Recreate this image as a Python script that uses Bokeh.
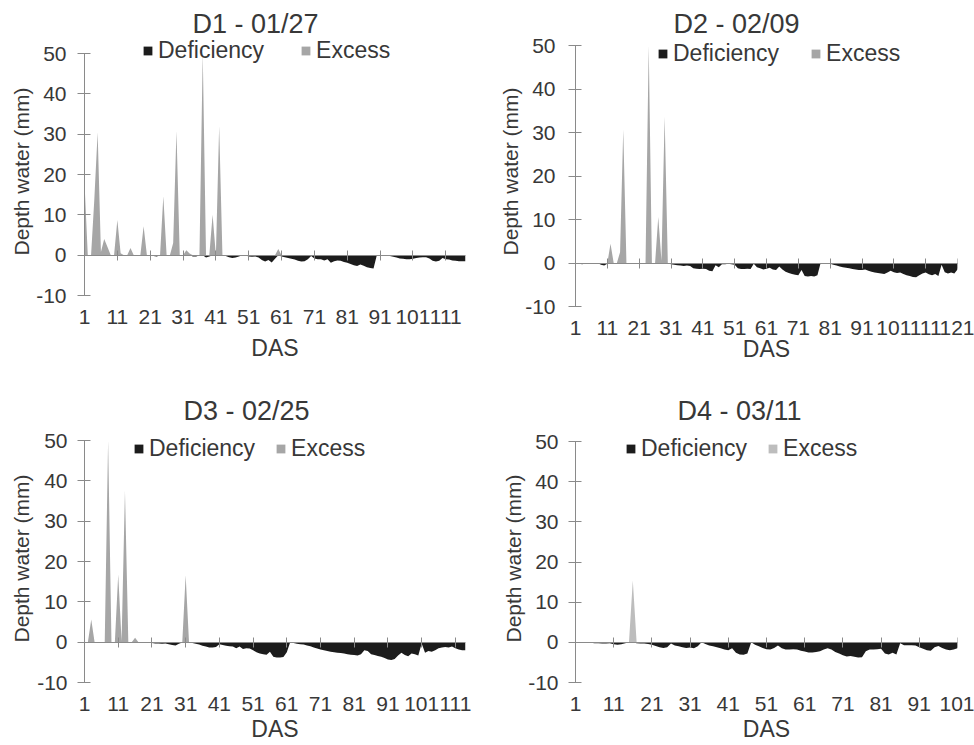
from bokeh.plotting import figure
from bokeh.layouts import column, row
from bokeh.models import (Range1d, FixedTicker, LinearAxis, Legend, LegendItem,
                          ColumnDataSource, CustomJSTickFormatter)
from bokeh.embed import file_html
from bokeh.resources import INLINE

FONT = "Liberation Sans"
TEXT = "#383838"
AXIS = "#8a8a8a"
DEF_COLOR = "#1c1c1c"

# ---------------- data ----------------
titles = ["D1 - 01/27", "D2 - 02/09", "D3 - 02/25", "D4 - 03/11"]
series_names = ["Deficiency", "Excess"]
y_ticks = [-10, 0, 10, 20, 30, 40, 50]

d1_deficiency = [
    0, 0, 0, 0, 0, 0, 0, 0, 0, 0,
    0, 0, -0.2, 0, 0, 0, 0, 0, 0, 0,
    0, -0.2, -0.3, 0, 0, 0, 0, 0, 0, 0,
    0, 0, 0, -0.3, -0.3, 0, 0, -0.6, -0.3, 0,
    0, 0, 0, -0.2, -0.5, -0.7, -0.6, -0.3, 0, 0,
    -0.3, -0.4, -0.3, -0.6, -1.2, -1.6, -1.2, -1.8, -0.9, 0,
    -0.3, -0.5, -0.7, -0.9, -1.1, -1.4, -1.6, -1.5, -1.0, -0.2,
    -0.8, -1.0, -1.0, -1.3, -1.0, -1.9, -1.5, -1.3, -1.4, -1.7,
    -1.9, -2.2, -2.5, -2.7, -2.3, -2.6, -3.0, -3.2, -3.3, 0,
    -0.1, -0.1, -0.1, -0.2, -0.4, -0.6, -0.8, -0.9, -1.0, -1.0,
    -0.9, -0.7, -0.6, -0.5, -0.5, -0.8, -1.4, -1.6, -1.4, -0.7,
    -1.0, -1.1, -1.3, -1.4, -1.5, -1.5, -1.5]
d1_excess_days = [1, 4, 5, 6, 7, 8, 11, 12, 15, 19, 25, 28, 29, 32, 33, 37, 40, 42, 60]
d1_excess_vals = [18, 14, 30.5, 0.8, 4, 2, 8.7, 0.5, 1.8, 7.2, 14.6, 3, 30.8, 1.2, 0.4, 50, 10, 32, 1.5]

d2_deficiency = [
    0, 0, -0.3, -0.2, 0, 0, 0, 0, -0.4, -0.6,
    -0.2, 0, 0, 0, 0, 0, 0, -0.1, -0.2, 0,
    0, 0, 0, 0, 0, -0.2, 0, 0, 0, 0,
    -0.3, -0.4, -0.5, -0.6, -0.7, -0.6, -0.7, -1.2, -1.3, -1.4,
    -1.3, -1.4, -1.8, -1.9, -0.5, -1.0, -0.3, -0.3, -0.2, -0.3,
    -0.4, -1.2, -1.4, -1.4, -1.3, -1.4, -0.2, -1.0, -1.2, -1.5,
    -1.3, -1.1, -1.5, -1.6, -0.8, -1.5, -2.0, -2.3, -2.5, -2.7,
    -2.8, -1.6, -3.0, -3.1, -3.0, -3.1, -2.8, 0, -0.1, -0.1,
    -0.2, -0.4, -0.6, -0.8, -1.0, -1.1, -1.2, -1.4, -1.5, -1.6,
    -1.6, -1.5, -1.8, -2.0, -2.2, -2.3, -2.4, -2.5, -2.2, -1.8,
    -2.1, -2.3, -2.2, -2.5, -2.8, -3.0, -3.2, -3.3, -2.8, -2.4,
    -2.2, -2.6, -2.8, -2.5, -3.0, -0.4, -2.1, -2.4, -2.2, -2.4, -1.5]
d2_excess_days = [12, 15, 16, 24, 27, 28, 29]
d2_excess_vals = [4.4, 2.5, 30.7, 50, 10.6, 0.5, 33.7]

d3_deficiency = [
    0, 0, 0, 0, 0, 0, 0, 0, 0, 0,
    0, 0, 0, 0, 0, 0, 0, 0, 0, 0,
    -0.2, -0.3, -0.3, -0.4, -0.3, -0.5, -0.7, -0.8, -0.4, -0.1,
    0, -0.1, -0.2, -0.4, -0.6, -0.9, -1.1, -1.3, -1.3, -1.2,
    -0.5, -0.7, -0.9, -1.0, -1.1, -1.5, -1.1, -1.7, -1.5, -1.6,
    -2.0, -2.5, -2.8, -3.0, -3.1, -2.4, -3.6, -3.8, -3.8, -3.7,
    -2.5, 0, -0.2, -0.4, -0.5, -0.6, -0.8, -1.0, -1.3, -1.6,
    -1.8, -2.0, -2.2, -2.4, -2.5, -2.6, -2.7, -2.8, -3.0, -3.1,
    -3.2, -3.3, -3.0, -2.0, -2.2, -3.0, -3.2, -3.4, -3.6, -3.9,
    -4.3, -4.4, -4.2, -3.3, -2.6, -3.2, -3.5, -2.8, -3.0, -3.3,
    -0.3, -2.6, -2.2, -2.4, -2.0, -1.5, -1.3, -1.2, -1.3, -1.1,
    -1.5, -1.8, -2.0, -2.0]
d3_excess_days = [3, 8, 11, 12, 13, 16, 31]
d3_excess_vals = [5.6, 50, 16.8, 0.3, 37.6, 1.1, 16.6]

d4_deficiency = [
    0, 0, 0, 0, -0.1, -0.2, -0.2, -0.3, -0.3, -0.2,
    -0.5, -0.6, -0.5, -0.2, 0, 0, -0.2, -0.3, -0.3, -0.4,
    -0.6, -0.9, -1.2, -1.4, -1.2, -0.3, -0.8, -1.0, -1.2, -1.4,
    -1.3, -1.5, -1.0, 0, -0.4, -0.8, -1.0, -1.2, -1.5, -1.8,
    -2.0, -1.5, -2.6, -3.0, -3.1, -2.8, 0, -0.6, -1.0, -1.4,
    -1.7, -1.8, -1.4, -0.8, -1.5, -1.8, -1.8, -1.7, -1.8, -2.1,
    -2.3, -2.5, -2.5, -2.4, -2.2, -1.8, -1.5, -1.8, -2.4, -2.8,
    -3.2, -3.5, -3.4, -3.6, -3.8, -3.7, -2.2, -1.8, -1.8, -1.7,
    -1.6, -2.8, -3.0, -2.6, -3.0, -0.2, -0.7, -0.7, -0.7, -0.8,
    -1.2, -1.6, -2.0, -2.1, -1.2, -0.9, -1.4, -1.8, -2.0, -1.8, -1.5]
d4_excess_days = [16]
d4_excess_vals = [15.4]

# ---------------- layout / style per panel (pixels) ----------------
configs = [
    dict(size=(487, 372), top=36, bottom=306, tstand=-4, left=84, right=22,
         pos50=53, pos_m10=295, title_off=108, leg=(58, 242), leg_sp=36,
         xstand=3, dasstand=8, ystand=11, ylabstand=0, exc="#a6a6a6"),
    dict(size=(487, 372), top=36, bottom=306, tstand=-4, left=88, right=17,
         pos50=45, pos_m10=306, title_off=98, leg=(82, 239), leg_sp=31,
         xstand=14, dasstand=-2, ystand=13, ylabstand=0, exc="#a6a6a6"),
    dict(size=(487, 372), top=62, bottom=310, tstand=18, left=84, right=22,
         pos50=68, pos_m10=310, title_off=99, leg=(49, 220), leg_sp=20,
         xstand=14, dasstand=2, ystand=10, ylabstand=1, exc="#a6a6a6"),
    dict(size=(487, 372), top=62, bottom=310, tstand=18, left=88, right=17,
         pos50=69, pos_m10=310, title_off=102, leg=(50, 220), leg_sp=20,
         xstand=14, dasstand=2, ystand=10, ylabstand=0, exc="#bdbdbd"),
]


def make_panel(title, deficiency, exc_days, exc_vals, cfg):
    n = len(deficiency)
    days = list(range(1, n + 1))
    excess = [0.0] * n
    for d, v in zip(exc_days, exc_vals):
        excess[d - 1] = v
    src = ColumnDataSource(dict(day=days, deficiency=deficiency, excess=excess))

    W, H = cfg["size"]
    ppu = (cfg["pos_m10"] - cfg["pos50"]) / 60.0
    y_end = 50 + (cfg["pos50"] - cfg["top"]) / ppu
    y_start = -10 - (cfg["bottom"] - cfg["pos_m10"]) / ppu

    p = figure(width=W, height=H, output_backend="svg", toolbar_location=None,
               x_range=Range1d(1, n), y_range=Range1d(y_start, y_end),
               x_axis_type=None, y_axis_type=None,
               min_border_left=cfg["left"], min_border_right=cfg["right"],
               min_border_top=cfg["top"], min_border_bottom=H - cfg["bottom"])
    p.outline_line_color = None
    p.background_fill_color = "white"
    p.border_fill_color = "white"

    p.title.text = title
    p.title.align = "left"
    p.title.offset = cfg["title_off"]
    p.title.vertical_align = "bottom"
    p.title.standoff = cfg["tstand"]
    p.title.text_font = FONT
    p.title.text_font_size = "27px"
    p.title.text_font_style = "normal"
    p.title.text_color = TEXT

    r_def = p.varea(x="day", y1=0, y2="deficiency", source=src, fill_color=DEF_COLOR)
    r_exc = p.varea(x="day", y1=0, y2="excess", source=src, fill_color=cfg["exc"])

    yax = LinearAxis(ticker=FixedTicker(ticks=y_ticks), bounds=(-10, 50),
                     formatter=CustomJSTickFormatter(code="return tick.toFixed(0)"),
                     axis_label="Depth water (mm)",
                     axis_line_color=AXIS, major_tick_line_color=AXIS,
                     minor_tick_line_color=None,
                     major_tick_in=6, major_tick_out=7,
                     major_label_standoff=cfg["ystand"],
                     axis_label_standoff=cfg["ylabstand"],
                     major_label_text_font=FONT, major_label_text_font_size="21px",
                     major_label_text_color=TEXT,
                     axis_label_text_font=FONT, axis_label_text_font_size="21px",
                     axis_label_text_font_style="normal", axis_label_text_color=TEXT)
    p.add_layout(yax, "left")

    x_ticks = list(range(1, n + 1, 10))
    xax = LinearAxis(ticker=FixedTicker(ticks=x_ticks), axis_label="DAS",
                     formatter=CustomJSTickFormatter(code="return tick.toFixed(0)"),
                     axis_line_color=None, major_tick_line_color=None,
                     minor_tick_line_color=None, major_tick_in=0, major_tick_out=0,
                     major_label_standoff=cfg["xstand"],
                     axis_label_standoff=cfg["dasstand"],
                     major_label_text_font=FONT, major_label_text_font_size="21px",
                     major_label_text_color=TEXT,
                     axis_label_text_font=FONT, axis_label_text_font_size="23px",
                     axis_label_text_font_style="normal", axis_label_text_color=TEXT)
    p.add_layout(xax, "below")

    zax = LinearAxis(ticker=FixedTicker(ticks=x_ticks), fixed_location=0,
                     formatter=CustomJSTickFormatter(code="return ''"),
                     axis_line_color=AXIS, major_tick_line_color=AXIS,
                     minor_tick_line_color=None, major_tick_in=5, major_tick_out=5,
                     major_label_standoff=0)
    p.add_layout(zax, "below")

    legend = Legend(items=[LegendItem(label=series_names[0], renderers=[r_def]),
                           LegendItem(label=series_names[1], renderers=[r_exc])],
                    orientation="horizontal", location=cfg["leg"],
                    glyph_width=11, glyph_height=11, label_standoff=5,
                    spacing=cfg["leg_sp"], padding=0, margin=0,
                    border_line_color=None, background_fill_alpha=0,
                    label_text_font=FONT, label_text_font_size="23px",
                    label_text_color=TEXT)
    p.add_layout(legend)
    return p


p1 = make_panel(titles[0], d1_deficiency, d1_excess_days, d1_excess_vals, configs[0])
p2 = make_panel(titles[1], d2_deficiency, d2_excess_days, d2_excess_vals, configs[1])
p3 = make_panel(titles[2], d3_deficiency, d3_excess_days, d3_excess_vals, configs[2])
p4 = make_panel(titles[3], d4_deficiency, d4_excess_days, d4_excess_vals, configs[3])

layout = column(row(p1, p2), row(p3, p4))

with open("out.html", "w") as f:
    f.write(file_html(layout, INLINE))
